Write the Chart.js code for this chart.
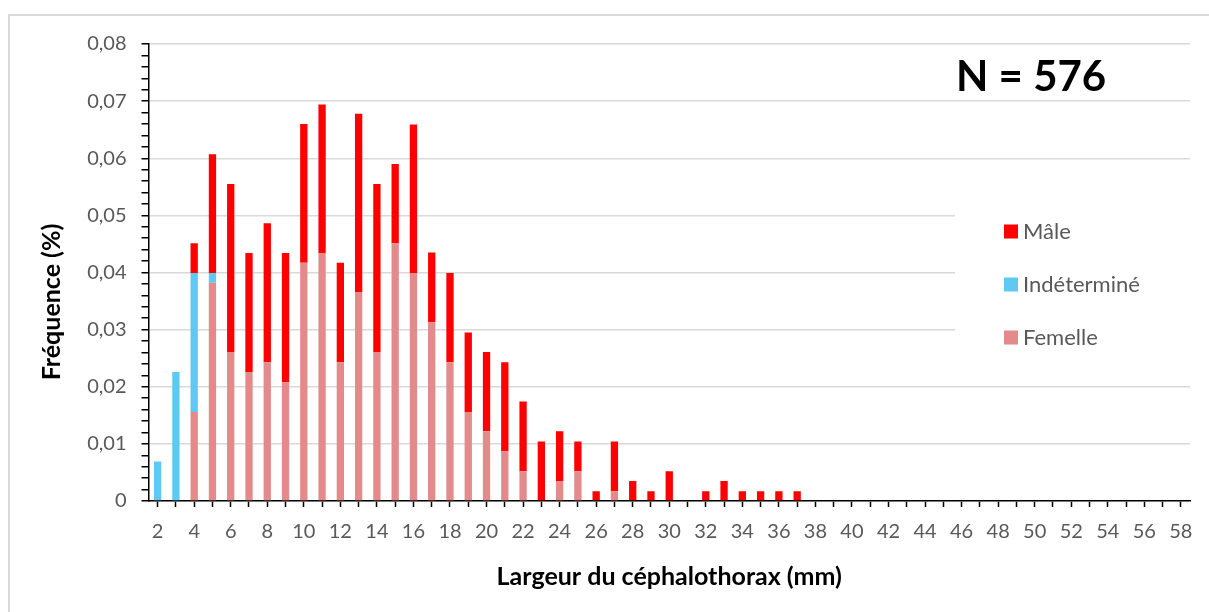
<!DOCTYPE html>
<html>
<head>
<meta charset="utf-8">
<script src="https://cdn.jsdelivr.net/npm/chart.js@4.4.1/dist/chart.umd.min.js"></script>
<style>
  html, body { margin: 0; padding: 0; background: #ffffff; }
  canvas { display: block; }
</style>
</head>
<body>
<canvas id="c" width="1209" height="612"></canvas>
<script>
const categories = ['2','3','4','5','6','7','8','9','10','11','12','13','14','15','16','17','18','19','20','21','22','23','24','25','26','27','28','29','30','31','32','33','34','35','36','37','38','39','40','41','42','43','44','45','46','47','48','49','50','51','52','53','54','55','56','57','58'];

const femelle = [0, 0, 0.0156, 0.0382, 0.0260, 0.0226, 0.0243, 0.0208, 0.0417, 0.0434,
  0.0243, 0.0365, 0.0260, 0.0451, 0.0399, 0.0313, 0.0243, 0.0156, 0.0122, 0.0087,
  0.0052, 0, 0.0035, 0.0052, 0, 0.0017,
  0, 0, 0, 0, 0, 0, 0, 0, 0, 0, 0, 0, 0, 0, 0, 0, 0, 0, 0, 0, 0, 0, 0, 0, 0, 0, 0, 0, 0, 0, 0];

const indetermine = [0.0069, 0.0226, 0.0243, 0.0017,
  0, 0, 0, 0, 0, 0, 0, 0, 0, 0, 0, 0, 0, 0, 0, 0, 0, 0, 0, 0, 0, 0, 0, 0, 0, 0,
  0, 0, 0, 0, 0, 0, 0, 0, 0, 0, 0, 0, 0, 0, 0, 0, 0, 0, 0, 0, 0, 0, 0, 0, 0, 0, 0];

const male = [0, 0, 0.0052, 0.0208, 0.0295, 0.0208, 0.0243, 0.0226, 0.0243, 0.0260,
  0.0174, 0.0313, 0.0295, 0.0139, 0.0260, 0.0122, 0.0156, 0.0139, 0.0139, 0.0156,
  0.0122, 0.0104, 0.0087, 0.0052, 0.0017, 0.0087, 0.0035, 0.0017, 0.0052, 0,
  0.0017, 0.0035, 0.0017, 0.0017, 0.0017, 0.0017,
  0, 0, 0, 0, 0, 0, 0, 0, 0, 0, 0, 0, 0, 0, 0, 0, 0, 0, 0, 0, 0];

const seriesNames = ['Femelle', 'Indéterminé', 'Mâle'];
const seriesColors = ['#E48A8A', '#5EC9F2', '#FF0000'];
const annotationText = 'N = 576';
const xTitle = 'Largeur du céphalothorax (mm)';
const yTitle = 'Fréquence (%)';

const FONT = 'Lato';
const TICK_COLOR = '#595959';
const GRID_COLOR = '#D9D9D9';

function isMajor(v) {
  return Math.abs(v * 100 - Math.round(v * 100)) < 1e-6;
}

const framePlugin = {
  id: 'frame',
  beforeDraw(chart) {
    const ctx = chart.ctx;
    ctx.save();
    ctx.fillStyle = '#ffffff';
    ctx.fillRect(0, 0, chart.width, chart.height);
    ctx.strokeStyle = '#D9D9D9';
    ctx.lineWidth = 2;
    ctx.strokeRect(9, 15, chart.width + 20, chart.height + 20);
    ctx.restore();
  },
  beforeDatasetsDraw(chart) {
    const ctx = chart.ctx;
    ctx.save();
    ctx.fillStyle = '#ffffff';
    ctx.fillRect(955, 200, chart.chartArea.right - 955 + 2, 160);
    ctx.restore();
  },
  afterDraw(chart) {
    const ctx = chart.ctx;
    ctx.save();
    // y axis title
    ctx.save();
    ctx.translate(52, 302);
    ctx.rotate(-Math.PI / 2);
    ctx.fillStyle = '#000000';
    ctx.font = 'bold 25px ' + FONT;
    ctx.textAlign = 'center';
    ctx.textBaseline = 'middle';
    ctx.fillText(yTitle, 0, 0);
    ctx.restore();
    // annotation
    ctx.fillStyle = '#000000';
    ctx.font = 'bold 42px ' + FONT;
    ctx.textBaseline = 'alphabetic';
    ctx.textAlign = 'left';
    ctx.fillText(annotationText, 956, 91);
    // legend
    ctx.font = '22px ' + FONT;
    const ds = chart.data.datasets.slice().reverse();
    const baselines = [238.5, 291.5, 344.5];
    ds.forEach((d, i) => {
      const b = baselines[i];
      ctx.fillStyle = d.backgroundColor;
      ctx.fillRect(1004, b - 14, 14, 14);
      ctx.fillStyle = TICK_COLOR;
      ctx.fillText(d.label, 1023, b);
    });
    ctx.restore();
  }
};

const ctx = document.getElementById('c').getContext('2d');
new Chart(ctx, {
  type: 'bar',
  data: {
    labels: categories,
    datasets: [
      { label: seriesNames[0], data: femelle, backgroundColor: seriesColors[0], borderWidth: 0 },
      { label: seriesNames[1], data: indetermine, backgroundColor: seriesColors[1], borderWidth: 0 },
      { label: seriesNames[2], data: male, backgroundColor: seriesColors[2], borderWidth: 0 }
    ]
  },
  options: {
    responsive: false,
    animation: false,
    devicePixelRatio: 1,
    layout: { padding: { left: 0, top: 44, right: 19, bottom: 0 } },
    datasets: { bar: { barPercentage: 0.4, categoryPercentage: 1.0 } },
    plugins: {
      legend: { display: false },
      tooltip: { enabled: false },
      title: { display: false }
    },
    scales: {
      x: {
        stacked: true,
        offset: true,
        grid: {
          display: true,
          drawOnChartArea: false,
          drawTicks: true,
          offset: false,
          tickLength: 6,
          tickColor: '#000000',
          tickWidth: 1.5
        },
        border: { display: true, color: '#000000', width: 1.5 },
        ticks: {
          autoSkip: false,
          maxRotation: 0,
          minRotation: 0,
          padding: 13,
          color: TICK_COLOR,
          font: { family: FONT, size: 20 },
          callback: function(value, index) {
            return index % 2 === 0 ? this.getLabelForValue(value) : '';
          }
        },
        title: {
          display: true,
          text: xTitle,
          color: '#000000',
          font: { family: FONT, size: 25, weight: 'bold' },
          padding: { top: 0, bottom: 20 }
        },
        afterFit: function(scale) { scale.height = 111; }
      },
      y: {
        stacked: true,
        min: 0,
        max: 0.08,
        grid: {
          display: true,
          drawOnChartArea: true,
          drawTicks: true,
          tickLength: 7,
          color: function(c) { return (c.tick && isMajor(c.tick.value)) ? GRID_COLOR : 'rgba(0,0,0,0)'; },
          lineWidth: 1.5,
          tickColor: '#000000',
          tickWidth: 1.5
        },
        border: { display: true, color: '#000000', width: 1.5 },
        ticks: {
          stepSize: 0.002,
          autoSkip: false,
          padding: 15,
          color: TICK_COLOR,
          font: { family: FONT, size: 20 },
          callback: function(value) {
            if (!isMajor(value)) return '';
            const r = Math.round(value * 100) / 100;
            return r === 0 ? '0' : r.toFixed(2).replace('.', ',');
          }
        },
        title: { display: false },
        afterFit: function(scale) { scale.width = 148.5; }
      }
    }
  },
  plugins: [framePlugin]
});
</script>
</body>
</html>
